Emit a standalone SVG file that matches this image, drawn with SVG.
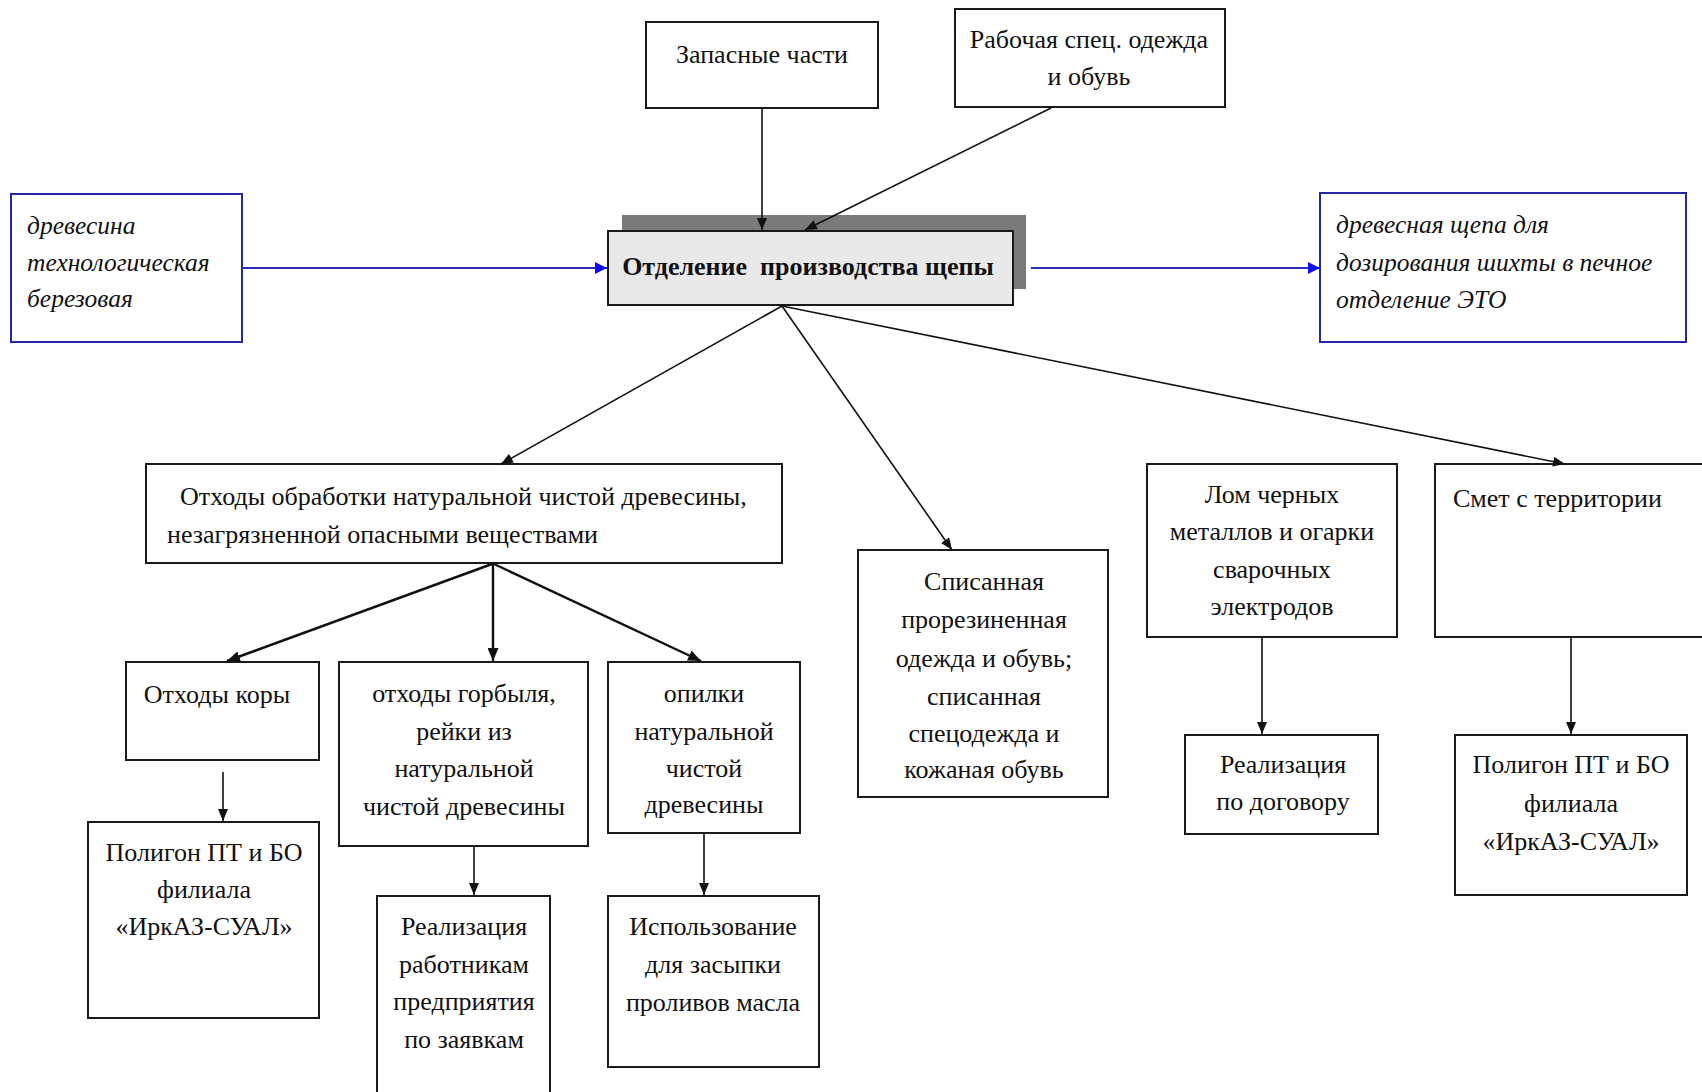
<svg xmlns="http://www.w3.org/2000/svg" width="1702" height="1092" viewBox="0 0 1702 1092">
<defs>
<style>
.box{fill:#ffffff;stroke:#1a1a1a;stroke-width:2}
.bbox{fill:#ffffff;stroke:#2626a6;stroke-width:2}
.t{font-family:"Liberation Serif","Times New Roman",serif;font-size:26px;fill:#111111;text-anchor:middle}
.ts{font-family:"Liberation Serif","Times New Roman",serif;font-size:26px;fill:#111111}
.it{font-family:"Liberation Serif","Times New Roman",serif;font-size:25.5px;font-style:italic;fill:#111111}
.bold{font-family:"Liberation Serif","Times New Roman",serif;font-size:26px;font-weight:bold;fill:#111111;text-anchor:middle}
.c{fill:none;stroke:#111111;stroke-width:1.6;marker-end:url(#ah)}
.ck{fill:none;stroke:#111111;stroke-width:2.4;marker-end:url(#ah2)}
.cb{fill:none;stroke:#2a2ab8;stroke-width:2;marker-end:url(#ab)}
</style>
<marker id="ah" viewBox="0 0 12 10" refX="12" refY="5" markerWidth="12" markerHeight="10" markerUnits="userSpaceOnUse" orient="auto"><path d="M0,0 L12,5 L0,10 z" fill="#111111"/></marker>
<marker id="ah2" viewBox="0 0 13 11" refX="13" refY="5.5" markerWidth="13" markerHeight="11" markerUnits="userSpaceOnUse" orient="auto"><path d="M0,0 L13,5.5 L0,11 z" fill="#111111"/></marker>
<marker id="ab" viewBox="0 0 12 12" refX="12" refY="6" markerWidth="12" markerHeight="12" markerUnits="userSpaceOnUse" orient="auto"><path d="M0,0 L12,6 L0,12 z" fill="#1010ee"/></marker>
</defs>
<rect width="1702" height="1092" fill="#ffffff"/>

<g id="n-wood">
<rect class="bbox" x="11" y="194" width="231" height="148"/>
<text class="it" x="27" y="234">древесина</text>
<text class="it" x="27" y="271">технологическая</text>
<text class="it" x="27" y="307">березовая</text>
</g>

<g id="n-chip-out">
<rect class="bbox" x="1320" y="193" width="366" height="149"/>
<text class="it" x="1336" y="233">древесная щепа для</text>
<text class="it" x="1336" y="271">дозирования шихты в печное</text>
<text class="it" x="1336" y="308">отделение ЭТО</text>
</g>

<g id="n-parts">
<rect class="box" x="646" y="22" width="232" height="86"/>
<text class="t" x="762" y="63">Запасные части</text>
</g>

<g id="n-clothes">
<rect class="box" x="955" y="9" width="270" height="98"/>
<text class="t" x="1089" y="48">Рабочая спец. одежда</text>
<text class="t" x="1089" y="85">и обувь</text>
</g>

<g id="n-center">
<rect x="622" y="215" width="404" height="74" fill="#7a7a7a"/>
<rect x="608" y="231" width="405" height="74" fill="#e9e9e9" stroke="#1a1a1a" stroke-width="2"/>
<text class="bold" x="808" y="275" xml:space="preserve">Отделение  производства щепы</text>
</g>

<g id="n-waste">
<rect class="box" x="146" y="464" width="636" height="99"/>
<text class="ts" x="180" y="505">Отходы обработки натуральной чистой древесины,</text>
<text class="ts" x="167" y="543">незагрязненной опасными веществами</text>
</g>

<g id="n-bark">
<rect class="box" x="126" y="662" width="193" height="98"/>
<text class="t" x="217" y="703">Отходы коры</text>
</g>

<g id="n-landfill-1">
<rect class="box" x="88" y="822" width="231" height="196"/>
<text class="t" x="204" y="861">Полигон ПТ и БО</text>
<text class="t" x="204" y="898">филиала</text>
<text class="t" x="204" y="935">«ИркАЗ-СУАЛ»</text>
</g>

<g id="n-slab">
<rect class="box" x="339" y="662" width="249" height="184"/>
<text class="t" x="464" y="702">отходы горбыля,</text>
<text class="t" x="464" y="740">рейки из</text>
<text class="t" x="464" y="777">натуральной</text>
<text class="t" x="464" y="815">чистой древесины</text>
</g>

<g id="n-sale-workers">
<rect class="box" x="377" y="896" width="173" height="200"/>
<text class="t" x="464" y="935">Реализация</text>
<text class="t" x="464" y="973">работникам</text>
<text class="t" x="464" y="1010">предприятия</text>
<text class="t" x="464" y="1048">по заявкам</text>
</g>

<g id="n-sawdust">
<rect class="box" x="608" y="662" width="192" height="171"/>
<text class="t" x="704" y="702">опилки</text>
<text class="t" x="704" y="740">натуральной</text>
<text class="t" x="704" y="777">чистой</text>
<text class="t" x="704" y="813">древесины</text>
</g>

<g id="n-oil">
<rect class="box" x="608" y="896" width="211" height="171"/>
<text class="t" x="713" y="935">Использование</text>
<text class="t" x="713" y="973">для засыпки</text>
<text class="t" x="713" y="1011">проливов масла</text>
</g>

<g id="n-rubber">
<rect class="box" x="858" y="550" width="250" height="247"/>
<text class="t" x="984" y="590">Списанная</text>
<text class="t" x="984" y="628">прорезиненная</text>
<text class="t" x="984" y="667">одежда и обувь;</text>
<text class="t" x="984" y="705">списанная</text>
<text class="t" x="984" y="742">спецодежда и</text>
<text class="t" x="984" y="778">кожаная обувь</text>
</g>

<g id="n-scrap">
<rect class="box" x="1147" y="464" width="250" height="173"/>
<text class="t" x="1272" y="503">Лом черных</text>
<text class="t" x="1272" y="540">металлов и огарки</text>
<text class="t" x="1272" y="578">сварочных</text>
<text class="t" x="1272" y="615">электродов</text>
</g>

<g id="n-sweep">
<rect class="box" x="1435" y="464" width="280" height="173"/>
<text class="ts" x="1453" y="507">Смет с территории</text>
</g>

<g id="n-sale-contract">
<rect class="box" x="1185" y="735" width="193" height="99"/>
<text class="t" x="1283" y="773">Реализация</text>
<text class="t" x="1283" y="810">по договору</text>
</g>

<g id="n-landfill-2">
<rect class="box" x="1455" y="735" width="232" height="160"/>
<text class="t" x="1571" y="773">Полигон ПТ и БО</text>
<text class="t" x="1571" y="812">филиала</text>
<text class="t" x="1571" y="850">«ИркАЗ-СУАЛ»</text>
</g>

<g id="connectors">
<line class="c" x1="762" y1="108" x2="762" y2="230"/>
<line class="c" x1="1051" y1="108" x2="805" y2="230"/>
<line class="cb" x1="242" y1="268" x2="607" y2="268"/>
<line class="cb" x1="1031" y1="268" x2="1320" y2="268"/>
<line class="c" x1="782" y1="306" x2="501" y2="464"/>
<line class="c" x1="782" y1="306" x2="952" y2="550"/>
<line class="c" x1="782" y1="306" x2="1565" y2="464"/>
<line class="ck" x1="492" y1="564" x2="227" y2="661"/>
<line class="ck" x1="493" y1="564" x2="493" y2="661"/>
<line class="ck" x1="494" y1="564" x2="701" y2="661"/>
<line class="c" x1="223" y1="772" x2="223" y2="821"/>
<line class="c" x1="474" y1="846" x2="474" y2="895"/>
<line class="c" x1="704" y1="833" x2="704" y2="895"/>
<line class="c" x1="1262" y1="637" x2="1262" y2="734"/>
<line class="c" x1="1571" y1="637" x2="1571" y2="734"/>
</g>
</svg>
